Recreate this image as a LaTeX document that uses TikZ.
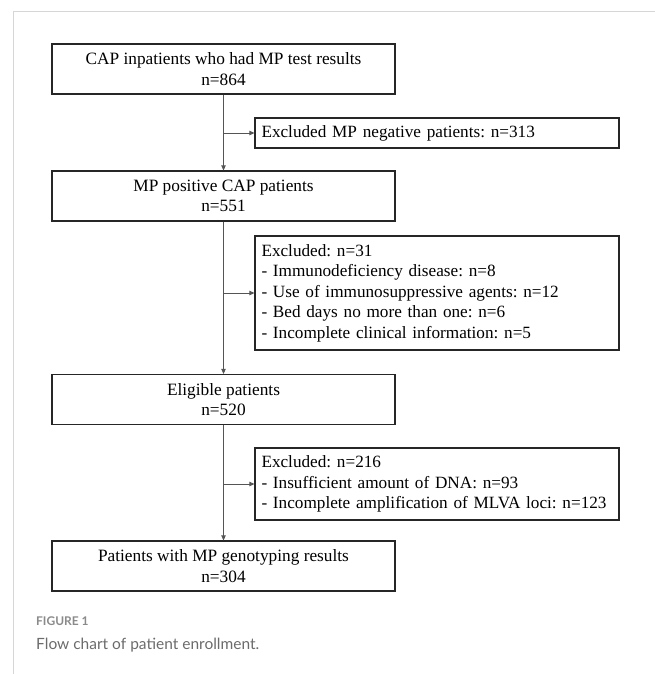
\documentclass[tikz,border=0pt]{standalone}
\usepackage{fontspec}
\setmainfont{Liberation Serif}
\newfontfamily\capfont{Lato}
\usetikzlibrary{arrows.meta}
\definecolor{framegray}{HTML}{D6D6D6}
\definecolor{linegray}{HTML}{555555}
\definecolor{capgray}{HTML}{8A8A8A}
\definecolor{textgray}{HTML}{6B6B6B}
\frenchspacing

\begin{document}
\begin{tikzpicture}[x=1pt,y=-1pt,
		mainbox/.style={draw=black!85, line width=1.2pt, minimum width=343pt, minimum height=50pt,
			inner sep=0pt, align=center, font=\fontsize{17.3}{20.5}\selectfont},
		exclbox/.style={draw=black!85, line width=1.2pt, text width=351pt, inner xsep=6.5pt,
			inner ysep=0pt, align=left, font=\fontsize{17.2}{20.5}\selectfont},
		flow/.style={draw=linegray, line width=0.9pt, -{Triangle[length=5pt,width=4.5pt]}}]
			\useasboundingbox (0,0) rectangle (655,674);
			\draw [framegray, line width=1pt] (13,674) -- (13,12) -- (655,12);
			\node [mainbox] (A) at (223.5,69) {CAP inpatients who had MP test results\\n=864};
			\node [exclbox, minimum height=30pt] (B) at (437,133) {Excluded MP negative patients: n=313};
			\node [mainbox] (C) at (223.5,196) {MP positive CAP patients\\n=551};
			\node [exclbox, minimum height=114pt] (D) at (437,293) {Excluded: n=31\\
				- Immunodeficiency disease: n=8\\
				- Use of immunosuppressive agents: n=12\\
				- Bed days no more than one: n=6\\
				- Incomplete clinical information: n=5};
			\node [mainbox] (E) at (223.5,399.5) {Eligible patients\\n=520};
			\node [exclbox, minimum height=72pt] (F) at (437,484) {Excluded: n=216\\
				- Insufficient amount of DNA: n=93\\
				- Incomplete amplification of MLVA loci: n=123};
			\node [mainbox] (G) at (223.5,566) {Patients with MP genotyping results\\n=304};
			\draw [flow] (A) -- (C);
			\draw [flow] (C) -- (E);
			\draw [flow] (E) -- (G);
			\draw [flow] (A.south |- B.west) -- (B.west);
			\draw [flow] (C.south |- D.west) -- (D.west);
			\draw [flow] (E.south |- F.west) -- (F.west);
			\node [anchor=base west, inner sep=0pt, text=capgray,
				font=\capfont\bfseries\fontsize{12}{14}\selectfont] (H) at (36,625) {FIGURE 1};
			\node [anchor=base west, inner sep=0pt, text=textgray,
				font=\capfont\fontsize{15.5}{18}\selectfont] (I) at (36,649) {Flow chart of patient enrollment.};
		\end{tikzpicture}
\end{document}
